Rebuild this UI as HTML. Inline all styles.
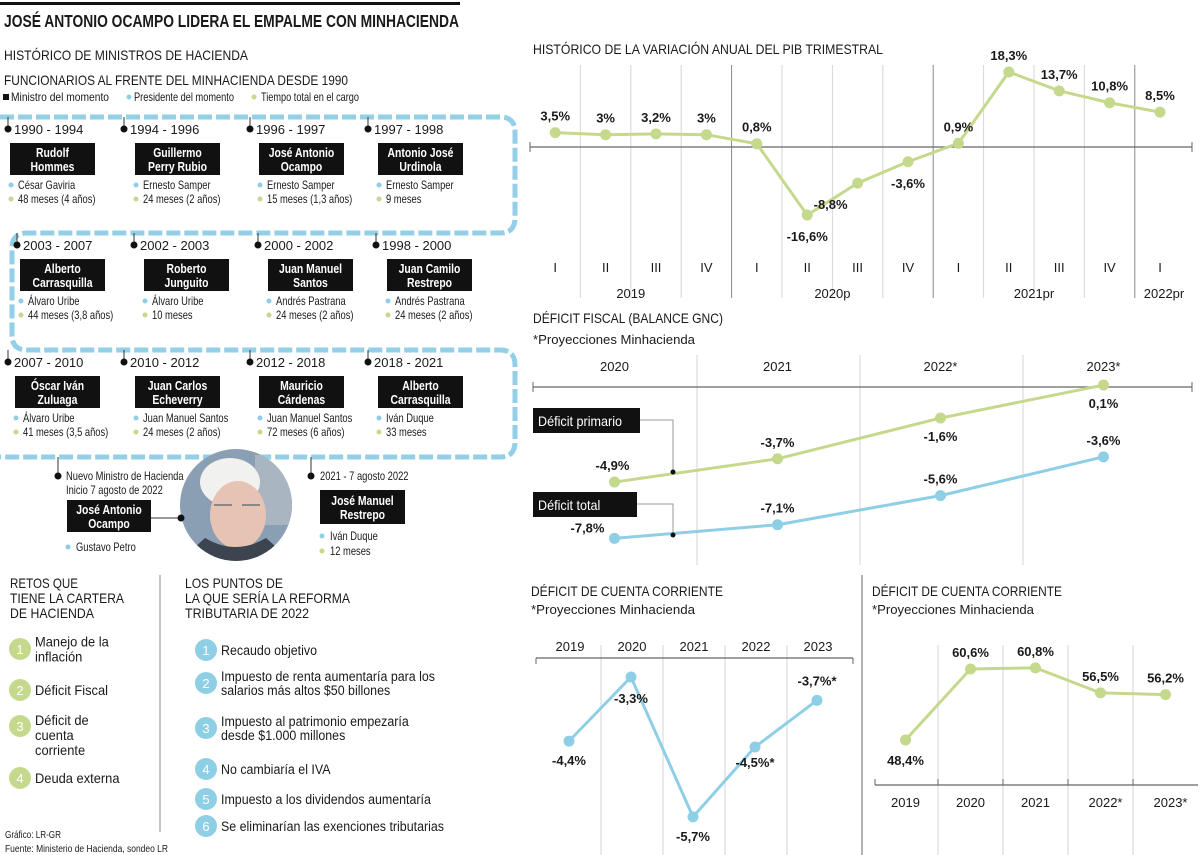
<!DOCTYPE html>
<html><head><meta charset="utf-8">
<style>
html,body{margin:0;padding:0;background:#fff;}
svg{display:block;}
text{font-family:"Liberation Sans Narrow","Liberation Sans",sans-serif;fill:#1a1a1a;}
.b{font-weight:bold;}
.w{fill:#fff;font-weight:bold;font-size:13px;}
.s{font-size:12px;}
.h{font-size:14px;}
</style></head>
<body>
<svg id="page" width="1200" height="855" viewBox="0 0 1200 855" xmlns="http://www.w3.org/2000/svg">
<rect x="0" y="0" width="1200" height="855" fill="#fff"/>
<rect x="0" y="2" width="460" height="3" fill="#111"/>
<text x="4" y="27" class="b" style="font-size:17.5px" textLength="455" lengthAdjust="spacingAndGlyphs">JOSÉ ANTONIO OCAMPO LIDERA EL EMPALME CON MINHACIENDA</text>
<text x="4" y="60" class="h" textLength="244" lengthAdjust="spacingAndGlyphs">HISTÓRICO DE MINISTROS DE HACIENDA</text>
<text x="4" y="85" class="h" textLength="344" lengthAdjust="spacingAndGlyphs">FUNCIONARIOS AL FRENTE DEL MINHACIENDA DESDE 1990</text>
<g>
<rect x="3" y="94" width="6" height="6" fill="#111"/><text x="11" y="101" class="s" textLength="98" lengthAdjust="spacingAndGlyphs">Ministro del momento</text>
<circle cx="129" cy="97" r="2.5" fill="#8fcfe6"/><text x="134" y="101" class="s" textLength="100" lengthAdjust="spacingAndGlyphs">Presidente del momento</text>
<circle cx="254" cy="97" r="2.5" fill="#c5d98c"/><text x="261" y="101" class="s" textLength="98" lengthAdjust="spacingAndGlyphs">Tiempo total en el cargo</text>
</g>
<path d="M0,117 H500 Q515,117 515,132 V218 Q515,233 500,233 H27 Q12,233 12,248 V335 Q12,350 27,350 H500 Q515,350 515,365 V442 Q515,457 500,457 H0" fill="none" stroke="#93cfe6" stroke-width="5" stroke-dasharray="14 4"/>
<g id="tl"></g>

<g>
<clipPath id="pc"><circle cx="236" cy="505" r="56"/></clipPath>
<g clip-path="url(#pc)">
<rect x="180" y="449" width="112" height="112" fill="#8a9fb3"/>
<rect x="255" y="455" width="40" height="70" fill="#aab5c2"/>
<ellipse cx="230" cy="482" rx="30" ry="24" fill="#f1f1ef"/>
<ellipse cx="238" cy="515" rx="28" ry="34" fill="#e6c3b3"/>
<path d="M180,561 L205,538 Q236,556 266,538 L292,561 Z" fill="#3c4450"/>
<path d="M214,505 h18 M242,505 h18" stroke="#888" stroke-width="2"/>
</g>
</g>
<line x1="151" y1="518" x2="181" y2="518" stroke="#333" stroke-width="1"/>
<circle cx="181" cy="518" r="3.5" fill="#111"/>

<line x1="160" y1="575" x2="160" y2="832" stroke="#888" stroke-width="1"/>
<g>
<text x="10" y="588" class="h" textLength="68" lengthAdjust="spacingAndGlyphs">RETOS QUE</text><text x="10" y="603" class="h" textLength="114" lengthAdjust="spacingAndGlyphs">TIENE LA CARTERA</text><text x="10" y="618" class="h" textLength="84" lengthAdjust="spacingAndGlyphs">DE HACIENDA</text>
</g>
<g>
<text x="185" y="588" class="h" textLength="98" lengthAdjust="spacingAndGlyphs">LOS PUNTOS DE</text><text x="185" y="603" class="h" textLength="165" lengthAdjust="spacingAndGlyphs">LA QUE SERÍA LA REFORMA</text><text x="185" y="618" class="h" textLength="124" lengthAdjust="spacingAndGlyphs">TRIBUTARIA DE 2022</text>
</g>
<g id="lists"></g>
<text x="5" y="838" style="font-size:10px" textLength="56" lengthAdjust="spacingAndGlyphs">Gráfico: LR-GR</text>
<text x="5" y="852" style="font-size:10px" textLength="163" lengthAdjust="spacingAndGlyphs">Fuente: Ministerio de Hacienda, sondeo LR</text>

<text x="533" y="54" class="h" textLength="350" lengthAdjust="spacingAndGlyphs">HISTÓRICO DE LA VARIACIÓN ANUAL DEL PIB TRIMESTRAL</text>
<g id="gdp"></g>

<text x="533" y="323" class="h" textLength="190" lengthAdjust="spacingAndGlyphs">DÉFICIT FISCAL (BALANCE GNC)</text>
<text x="533" y="344" style="font-size:13px" textLength="162" lengthAdjust="spacingAndGlyphs">*Proyecciones Minhacienda</text>
<g id="fis"></g>

<line x1="862" y1="575" x2="862" y2="855" stroke="#666" stroke-width="1"/>
<text x="531" y="596" class="h" textLength="192" lengthAdjust="spacingAndGlyphs">DÉFICIT DE CUENTA CORRIENTE</text>
<text x="531" y="614" style="font-size:13px" textLength="164" lengthAdjust="spacingAndGlyphs">*Proyecciones Minhacienda</text>
<g id="ca"></g>
<text x="872" y="596" class="h" textLength="190" lengthAdjust="spacingAndGlyphs">DÉFICIT DE CUENTA CORRIENTE</text>
<text x="872" y="614" style="font-size:13px" textLength="162" lengthAdjust="spacingAndGlyphs">*Proyecciones Minhacienda</text>
<g id="db"></g>
</svg>
<script>
const NS="http://www.w3.org/2000/svg";
const GREEN="#c5d98c", BLUE="#8fcfe6";
const gdpQuarters=["I","II","III","IV","I","II","III","IV","I","II","III","IV","I"];
const gdpYears=["2019","2020p","2021pr","2022pr"];
const gdpValues=[3.5,3,3.2,3,0.8,-16.6,-8.8,-3.6,0.9,18.3,13.7,10.8,8.5];
const gdpLabels=["3,5%","3%","3,2%","3%","0,8%","-16,6%","-8,8%","-3,6%","0,9%","18,3%","13,7%","10,8%","8,5%"];
const fisYears=["2020","2021","2022*","2023*"];
const fisPrimary=[-4.9,-3.7,-1.6,0.1];
const fisPrimaryLabels=["-4,9%","-3,7%","-1,6%","0,1%"];
const fisTotal=[-7.8,-7.1,-5.6,-3.6];
const fisTotalLabels=["-7,8%","-7,1%","-5,6%","-3,6%"];
const caYears=["2019","2020","2021","2022","2023"];
const caValues=[-4.4,-3.3,-5.7,-4.5,-3.7];
const caLabels=["-4,4%","-3,3%","-5,7%","-4,5%*","-3,7%*"];
const dbYears=["2019","2020","2021","2022*","2023*"];
const dbValues=[48.4,60.6,60.8,56.5,56.2];
const dbLabels=["48,4%","60,6%","60,8%","56,5%","56,2%"];
const ministers=[
 ["1990 - 1994","Rudolf","Hommes","César Gaviria","48 meses (4 años)"],
 ["1994 - 1996","Guillermo","Perry Rubio","Ernesto Samper","24 meses (2 años)"],
 ["1996 - 1997","José Antonio","Ocampo","Ernesto Samper","15 meses (1,3 años)"],
 ["1997 - 1998","Antonio José","Urdinola","Ernesto Samper","9 meses"],
 ["2003 - 2007","Alberto","Carrasquilla","Álvaro Uribe","44 meses (3,8 años)"],
 ["2002 - 2003","Roberto","Junguito","Álvaro Uribe","10 meses"],
 ["2000 - 2002","Juan Manuel","Santos","Andrés Pastrana","24 meses (2 años)"],
 ["1998 - 2000","Juan Camilo","Restrepo","Andrés Pastrana","24 meses (2 años)"],
 ["2007 - 2010","Óscar Iván","Zuluaga","Álvaro Uribe","41 meses (3,5 años)"],
 ["2010 - 2012","Juan Carlos","Echeverry","Juan Manuel Santos","24 meses (2 años)"],
 ["2012 - 2018","Mauricio","Cárdenas","Juan Manuel Santos","72 meses (6 años)"],
 ["2018 - 2021","Alberto","Carrasquilla","Iván Duque","33 meses"]
];
const challenges=[["Manejo de la","inflación"],["Déficit Fiscal"],["Déficit de","cuenta","corriente"],["Deuda externa"]];
const reforms=[["Recaudo objetivo"],["Impuesto de renta aumentaría para los","salarios más altos $50 billones"],["Impuesto al patrimonio empezaría","desde $1.000 millones"],["No cambiaría el IVA"],["Impuesto a los dividendos aumentaría"],["Se eliminarían las exenciones tributarias"]];

function el(tag,attrs,parent,txt){const e=document.createElementNS(NS,tag);for(const k in attrs)e.setAttribute(k,attrs[k]);if(txt!==undefined)e.textContent=txt;parent.appendChild(e);return e;}
function fit(e,ratio){try{const w=e.getComputedTextLength();e.setAttribute('textLength',(w*ratio).toFixed(1));e.setAttribute('lengthAdjust','spacingAndGlyphs');}catch(_){}}

const tl=document.getElementById('tl');
const rowTop=[117,233,350], colX=[[8,124,250,368],[17,134,258,376],[8,124,250,368]];
const boxX=[[10,135,259,378],[20,144,268,387],[15,135,259,378]];
ministers.forEach((m,i)=>{
 const r=Math.floor(i/4),c=i%4, yt=rowTop[r]+12, x=colX[r][c], bx=boxX[r][c], by=yt+14;
 const g=el('g',{},tl);
 
 
 el('line',{x1:x,y1:rowTop[r],x2:x,y2:yt,stroke:'#333','stroke-width':1},g);
 el('circle',{cx:x,cy:yt,r:3.5,fill:'#111'},g);
 el('text',{x:x+6,y:yt+5,style:'font-size:13px'},g,m[0]);
 el('rect',{x:bx,y:by,width:85,height:32,fill:'#111'},g);
 fit(el('text',{x:bx+42.5,y:by+14,'text-anchor':'middle',class:'w'},g,m[1]),0.8);
 fit(el('text',{x:bx+42.5,y:by+28,'text-anchor':'middle',class:'w'},g,m[2]),0.8);
 el('circle',{cx:bx+1,cy:by+42,r:2.5,fill:BLUE},g);
 fit(el('text',{x:bx+8,y:by+46,class:'s'},g,m[3]),0.78);
 el('circle',{cx:bx+1,cy:by+56,r:2.5,fill:GREEN},g);
 fit(el('text',{x:bx+8,y:by+60,class:'s'},g,m[4]),0.78);
});
(function(){
 const g=el('g',{},tl);
 
 
 el('line',{x1:58,y1:457,x2:58,y2:476,stroke:'#333'},g);
 el('circle',{cx:58,cy:476,r:3.5,fill:'#111'},g);
 fit(el('text',{x:66,y:480,class:'s'},g,'Nuevo Ministro de Hacienda'),0.78);
 fit(el('text',{x:66,y:494,class:'s'},g,'Inicio 7 agosto de 2022'),0.78);
 el('rect',{x:67,y:500,width:84,height:32,fill:'#111'},g);
 fit(el('text',{x:109,y:514,'text-anchor':'middle',class:'w'},g,'José Antonio'),0.8);
 fit(el('text',{x:109,y:528,'text-anchor':'middle',class:'w'},g,'Ocampo'),0.8);
 el('circle',{cx:68,cy:547,r:2.5,fill:BLUE},g);
 fit(el('text',{x:76,y:551,class:'s'},g,'Gustavo Petro'),0.78);
 const h=el('g',{},tl);
 
 
 el('line',{x1:311,y1:457,x2:311,y2:476,stroke:'#333'},h);
 el('circle',{cx:311,cy:476,r:3.5,fill:'#111'},h);
 fit(el('text',{x:320,y:480,class:'s'},h,'2021 - 7 agosto 2022'),0.78);
 el('rect',{x:320,y:490,width:85,height:34,fill:'#111'},h);
 fit(el('text',{x:362.5,y:505,'text-anchor':'middle',class:'w'},h,'José Manuel'),0.8);
 fit(el('text',{x:362.5,y:519,'text-anchor':'middle',class:'w'},h,'Restrepo'),0.8);
 el('circle',{cx:322,cy:536,r:2.5,fill:BLUE},h);
 fit(el('text',{x:330,y:540,class:'s'},h,'Iván Duque'),0.78);
 el('circle',{cx:322,cy:551,r:2.5,fill:GREEN},h);
 fit(el('text',{x:330,y:555,class:'s'},h,'12 meses'),0.78);
})();

const L=document.getElementById('lists');
const chY=[649,690,726,778];
challenges.forEach((c,i)=>{
 const g=el('g',{},L);
 
 
 el('circle',{cx:20,cy:chY[i],r:11,fill:GREEN},g);
 el('text',{x:20,y:chY[i]+5,'text-anchor':'middle',style:'font-size:13px;fill:#fff'},g,String(i+1));
 const y0=chY[i]+5-(c.length>1?7.5:0);
 c.forEach((t,j)=>fit(el('text',{x:35,y:(i==2? chY[i]-1+j*15 : y0+j*15),style:'font-size:14px'},g,t),0.92));
});
const rfY=[650,683,728,769,799,826];
reforms.forEach((c,i)=>{
 const g=el('g',{},L);
 
 
 el('circle',{cx:206,cy:rfY[i],r:11,fill:BLUE},g);
 el('text',{x:206,y:rfY[i]+5,'text-anchor':'middle',style:'font-size:13px;fill:#fff'},g,String(i+1));
 const y0=rfY[i]+(c.length>1?-2:5);
 c.forEach((t,j)=>fit(el('text',{x:221,y:y0+j*14,style:'font-size:13.5px'},g,t),0.92));
});

function drawSeries(g,xs,ys,color,name){
 const p=el('polyline',{points:xs.map((x,i)=>x+','+ys[i]).join(' '),fill:'none',stroke:color,'stroke-width':3},g);
 
 
 xs.forEach((x,i)=>{const c=el('circle',{cx:x,cy:ys[i],r:5.5,fill:color},g);
  
  });
}

(function(){
 const g=document.getElementById('gdp');
 const step=50.4, x0=530, xq=i=>x0+step*(i+0.5), y=v=>147-v*4.1;
 for(let k=1;k<gdpQuarters.length;k++){
  const dark=(k==4||k==8||k==12);
  el('line',{x1:x0+k*step,y1:65,x2:x0+k*step,y2:298,stroke:dark?'#888':'#d6d6d6','stroke-width':1},g);
 }
 el('line',{x1:530,y1:147,x2:1192,y2:147,stroke:'#666','stroke-width':1.2},g);
 el('line',{x1:530,y1:142,x2:530,y2:152,stroke:'#666'},g);
 el('line',{x1:1192,y1:142,x2:1192,y2:152,stroke:'#666'},g);
 gdpQuarters.forEach((q,i)=>el('text',{x:xq(i),y:272,'text-anchor':'middle',style:'font-size:13px'},g,q));
 const yc=[xq(1.5),xq(5.5),xq(9.5),xq(12)+4];
 gdpYears.forEach((t,i)=>el('text',{x:yc[i],y:298,'text-anchor':'middle',style:'font-size:13px'},g,t));
 const xs=gdpValues.map((v,i)=>xq(i)), ys=gdpValues.map(y);
 drawSeries(g,xs,ys,GREEN,'gdp');
 gdpValues.forEach((v,i)=>el('text',{x:xs[i]+(v<0&&v<-5&&v>-10?-27:0),y:v<0?ys[i]+26:ys[i]-12,'text-anchor':'middle',class:'b',style:'font-size:13px'},g,gdpLabels[i]));
})();

(function(){
 const g=document.getElementById('fis');
 const cw=163, x0=534, xc=i=>x0+cw*(i+0.5)-1, y=v=>387-v*19.4;
 for(let k=1;k<4;k++) el('line',{x1:x0+k*cw,y1:355,x2:x0+k*cw,y2:565,stroke:'#d6d6d6'},g);
 el('line',{x1:533,y1:387,x2:1192,y2:387,stroke:'#666','stroke-width':1.2},g);
 el('line',{x1:533,y1:382,x2:533,y2:392,stroke:'#666'},g);
 el('line',{x1:1192,y1:382,x2:1192,y2:392,stroke:'#666'},g);
 fisYears.forEach((t,i)=>el('text',{x:xc(i),y:371,'text-anchor':'middle',style:'font-size:13px'},g,t));
 const xs=fisYears.map((t,i)=>xc(i));
 drawSeries(g,xs,fisPrimary.map(y),GREEN,'primary-deficit');
 drawSeries(g,xs,fisTotal.map(y),BLUE,'total-deficit');
 fisPrimary.forEach((v,i)=>el('text',{x:xs[i]+(i==0?-2:0),y:i>=2?y(v)+23:y(v)-12,'text-anchor':'middle',class:'b',style:'font-size:13px'},g,fisPrimaryLabels[i]));
 fisTotal.forEach((v,i)=>el('text',{x:xs[i]+(i==0?-27:0),y:y(v)-(i==0?6:12),'text-anchor':'middle',class:'b',style:'font-size:13px'},g,fisTotalLabels[i]));
 [[408,'Déficit primario',107,472],[492,'Déficit total',104,535]].forEach(a=>{
  const lg=el('g',{},g);
  
  
  el('rect',{x:533,y:a[0],width:a[2],height:25,fill:'#111'},lg);
  fit(el('text',{x:538,y:a[0]+18,style:'font-size:14px;fill:#fff'},lg,a[1]),0.9);
  el('polyline',{points:`${533+a[2]},${a[0]+12} 673,${a[0]+12} 673,${a[3]}`,fill:'none',stroke:'#999'},lg);
  el('circle',{cx:673,cy:a[3],r:2.5,fill:'#111'},lg);
 });
})();

(function(){
 const g=document.getElementById('ca');
 const cw=62, x0=539, xc=i=>x0+cw*(i+0.5), y=v=>677+(-3.3-v)*58.3;
 for(let k=1;k<5;k++) el('line',{x1:x0+k*cw,y1:645,x2:x0+k*cw,y2:855,stroke:'#d6d6d6'},g);
 el('line',{x1:536,y1:658,x2:853,y2:658,stroke:'#666','stroke-width':1.2},g);
 el('line',{x1:536,y1:658,x2:536,y2:664,stroke:'#666'},g);
 el('line',{x1:853,y1:658,x2:853,y2:664,stroke:'#666'},g);
 caYears.forEach((t,i)=>el('text',{x:xc(i),y:651,'text-anchor':'middle',style:'font-size:13px'},g,t));
 const xs=caValues.map((v,i)=>xc(i)-1), ys=caValues.map(y);
 drawSeries(g,xs,ys,BLUE,'current-account');
 caValues.forEach((v,i)=>{
  const lb=i==0||i==2||i==3; const ly=i==1?ys[i]+26:(lb?ys[i]+24:ys[i]-15);
  el('text',{x:xs[i],y:i==3?ys[i]+20:ly,'text-anchor':'middle',class:'b',style:'font-size:13px'},g,caLabels[i]);
 });
})();

(function(){
 const g=document.getElementById('db');
 const cw=65, x0=873, xc=i=>x0+cw*(i+0.5), y=v=>740-(v-48.4)*5.82;
 for(let k=1;k<5;k++) el('line',{x1:x0+k*cw,y1:645,x2:x0+k*cw,y2:855,stroke:'#d6d6d6'},g);
 el('line',{x1:875,y1:785,x2:1198,y2:785,stroke:'#666','stroke-width':1.2},g);
 el('line',{x1:875,y1:779,x2:875,y2:785,stroke:'#666'},g);
 for(let k=1;k<5;k++) el('line',{x1:x0+k*cw,y1:779,x2:x0+k*cw,y2:785,stroke:'#666'},g);
 dbYears.forEach((t,i)=>el('text',{x:xc(i)+(i>=3?5:0),y:807,'text-anchor':'middle',style:'font-size:13px'},g,t));
 const xs=dbValues.map((v,i)=>xc(i)), ys=dbValues.map(y);
 drawSeries(g,xs,ys,GREEN,'second-series');
 dbValues.forEach((v,i)=>el('text',{x:xs[i],y:i==0?ys[i]+25:ys[i]-12,'text-anchor':'middle',class:'b',style:'font-size:13px'},g,dbLabels[i]));
})();
</script>
</body></html>
